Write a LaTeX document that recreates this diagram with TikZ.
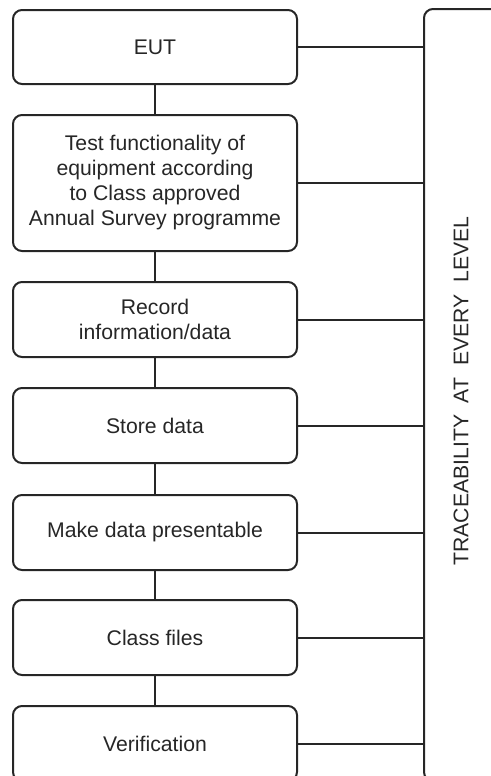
\documentclass[tikz,border=0pt]{standalone}
\usepackage{fontspec}
\setmainfont{Liberation Sans}
\usepackage{tikz}
\usetikzlibrary{positioning}

\tikzset{
  stepbox/.style={draw=black!85, line width=1pt, rounded corners=4.5pt,
    minimum width=142pt, align=center, text=black!85,
    font=\fontsize{10.6}{12.5}\selectfont},
  link/.style={draw=black!85, line width=1pt}
}

\begin{document}
\begin{tikzpicture}[x=0.5pt, y=-0.5pt]
            \clip (0,0) rectangle (491,776);
            % Các bước
            \node[stepbox, minimum height=37pt] (eut) at (155,47) {EUT};
            \node[stepbox, minimum height=68pt] (test) at (155,183)
              {Test functionality of\\equipment according\\to Class approved\\Annual Survey programme};
            \node[stepbox, minimum height=37.5pt] (record) at (155,319.5) {Record\\information/data};
            \node[stepbox, minimum height=37.5pt] (store) at (155,425.5) {Store data};
            \node[stepbox, minimum height=37.5pt] (present) at (155,532.5) {Make data presentable};
            \node[stepbox, minimum height=37.5pt] (files) at (155,637.5) {Class files};
            \node[stepbox, minimum height=37.5pt] (verify) at (155,743.5) {Verification};
            
            % Khung truy xuất
            \node[stepbox, minimum width=48pt, minimum height=386pt] (trace) at (472,395) {};
            \node[rotate=90, text=black!85, font=\fontsize{10.6}{12.5}\selectfont] (tracetext) at (461,391)
              {TRACEABILITY\ \ AT\ \ EVERY\ \ LEVEL};
            
            % Nối dọc
            \draw[link] (eut) -- (test);
            \draw[link] (test) -- (record);
            \draw[link] (record) -- (store);
            \draw[link] (store) -- (present);
            \draw[link] (present) -- (files);
            \draw[link] (files) -- (verify);
            
            % Nối ngang
            \foreach \s in {eut, test, record, store, present, files, verify}
              \draw[link] (\s.east) -- (\s.east -| trace.west);
        \end{tikzpicture}
\end{document}
